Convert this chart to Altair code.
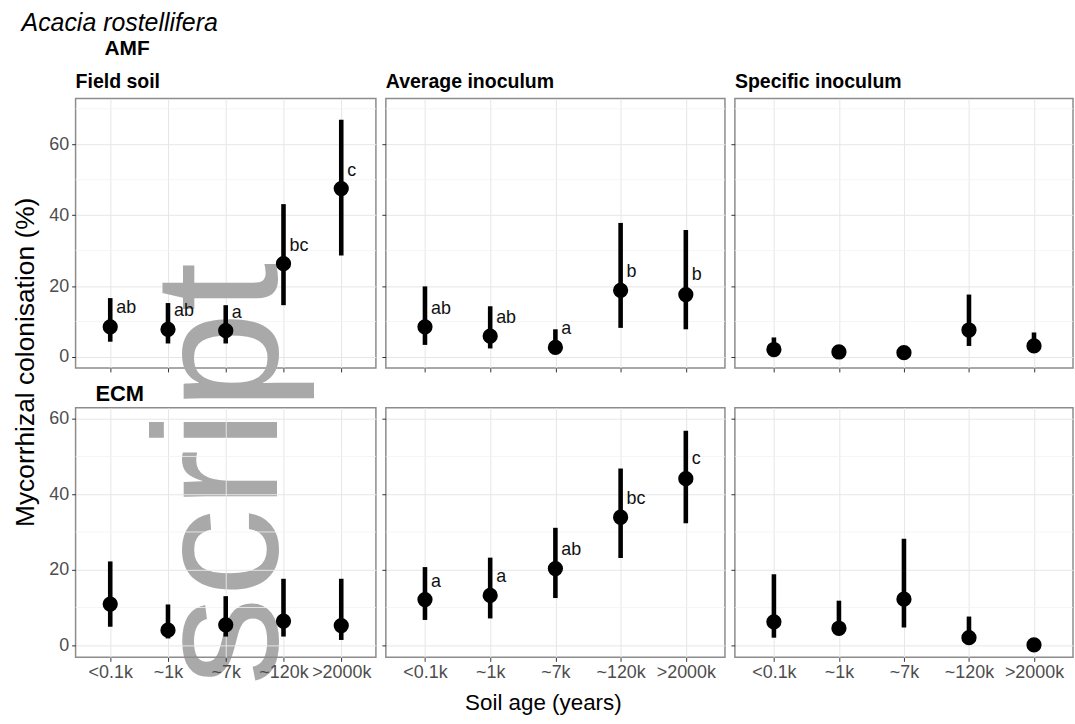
import altair as alt
import pandas as pd

# Soil-age categories along the chronosequence
ages = ["<0.1k", "~1k", "~7k", "~120k", ">2000k"]

# AMF colonisation (%) - mean and interval bounds per soil age
field_amf_mean = [8.5, 7.8, 7.4, 26.3, 47.5]
field_amf_lo = [4.3, 3.8, 3.8, 14.6, 28.6]
field_amf_hi = [16.6, 15.2, 14.6, 43.1, 66.9]
field_amf_letters = ["ab", "ab", "a", "bc", "c"]
field_amf_label_y = [13.7, 13.0, 12.3, 31.2, 52.4]

avg_amf_mean = [8.5, 5.9, 2.7, 18.8, 17.6]
avg_amf_lo = [3.4, 2.4, 0.8, 8.2, 7.8]
avg_amf_hi = [19.9, 14.3, 7.8, 37.8, 35.8]
avg_amf_letters = ["ab", "ab", "a", "b", "b"]
avg_amf_label_y = [13.6, 11.0, 7.8, 23.9, 23.0]

spec_amf_mean = [2.1, 1.4, 1.2, 7.6, 3.1]
spec_amf_lo = [0.6, 0.4, 0.3, 3.1, 1.2]
spec_amf_hi = [5.5, 2.6, 2.2, 17.6, 6.9]

# ECM colonisation (%)
field_ecm_mean = [10.9, 4.0, 5.4, 6.4, 5.2]
field_ecm_lo = [4.9, 1.8, 2.3, 2.3, 1.4]
field_ecm_hi = [22.2, 10.8, 13.0, 17.6, 17.6]

avg_ecm_mean = [12.1, 13.2, 20.3, 33.9, 44.1]
avg_ecm_lo = [6.7, 7.1, 12.5, 23.1, 32.3]
avg_ecm_hi = [20.7, 23.2, 31.1, 46.8, 56.8]
avg_ecm_letters = ["a", "a", "ab", "bc", "c"]
avg_ecm_label_y = [16.8, 18.1, 25.1, 38.7, 49.2]

spec_ecm_mean = [6.2, 4.5, 12.2, 2.0, 0.1]
spec_ecm_lo = [2.0, 2.7, 4.7, 0.5, 0.0]
spec_ecm_hi = [18.8, 11.8, 28.2, 7.6, 0.3]

# y ranges per row and minor grid positions
amf_domain = [-3.1, 72.9]
ecm_domain = [-3.2, 62.9]
major_ticks = [0, 20, 40, 60]
amf_minor = [10, 30, 50, 70]
ecm_minor = [10, 30, 50]

FONT = "Liberation Sans"
GRID = "#e6e6e6"
MINOR = "#f3f3f3"
TICK_LABEL = "#4d4d4d"


def frame(mean, lo, hi, letters=None, label_y=None):
    d = pd.DataFrame({"age": ages, "mean": mean, "lo": lo, "hi": hi})
    d["letter"] = letters if letters else [""] * len(ages)
    d["label_y"] = label_y if label_y else mean
    return d


def panel(d, title, width, height, domain, minor, show_y, show_x,
          title_size=19.6, title_dx=0, title_offset=6, watermark=False):
    yscale = alt.Scale(domain=domain, nice=False, zero=False)
    xscale = alt.Scale(type="point", padding=0.6)
    x_axis = alt.Axis(
        grid=True, gridColor=GRID, gridWidth=1, domain=False,
        ticks=True, tickSize=4, tickColor="#333333", tickWidth=1,
        labels=show_x, labelAngle=0, labelFontSize=18, labelColor=TICK_LABEL,
        labelFont=FONT, labelPadding=2, title=None,
    )
    y_axis = alt.Axis(
        values=major_ticks, grid=True, gridColor=GRID, gridWidth=1, domain=False,
        ticks=True, tickSize=4, tickColor="#333333", tickWidth=1,
        labels=show_y, labelFontSize=18, labelColor=TICK_LABEL,
        labelFont=FONT, labelPadding=3, title=None,
    )
    x = alt.X("age:N", sort=ages, scale=xscale, axis=x_axis)

    minor_grid = alt.Chart(pd.DataFrame({"v": minor})).mark_rule(
        color=MINOR, strokeWidth=0.8
    ).encode(y=alt.Y("v:Q", scale=yscale, axis=y_axis))

    base = alt.Chart(d)
    bars = base.mark_rule(color="black", strokeWidth=4.6).encode(
        x=x,
        y=alt.Y("lo:Q", scale=yscale, axis=y_axis),
        y2="hi:Q",
    )
    points = base.mark_circle(color="black", size=235, opacity=1).encode(
        x=x,
        y=alt.Y("mean:Q", scale=yscale, axis=y_axis),
    )
    letters = base.mark_text(
        align="left", baseline="middle", dx=6, fontSize=18, font=FONT, color="#111111"
    ).encode(
        x=x,
        y=alt.Y("label_y:Q", scale=yscale, axis=y_axis),
        text="letter:N",
    )
    layers = [minor_grid]
    if watermark:
        layers.append(
            alt.Chart(pd.DataFrame({"t": ["script"]})).mark_text(
                angle=270, align="right", baseline="alphabetic",
                fontSize=178, font=FONT, color="#a9a9a9",
            ).encode(x=alt.value(203), y=alt.value(165), text="t:N")
        )
    layers += [bars, points, letters]
    props = dict(width=width, height=height)
    if title:
        props["title"] = alt.TitleParams(
            text=title, anchor="start", frame="group", fontSize=title_size,
            fontWeight="bold", font=FONT, color="black", offset=title_offset, dx=title_dx,
        )
    return alt.layer(*layers).properties(**props)


W1, W2, W3 = 302, 341, 340
H1, H2 = 271, 251

p11 = panel(frame(field_amf_mean, field_amf_lo, field_amf_hi, field_amf_letters, field_amf_label_y),
            "Field soil", W1, H1, amf_domain, amf_minor, True, False, watermark=True)
p12 = panel(frame(avg_amf_mean, avg_amf_lo, avg_amf_hi, avg_amf_letters, avg_amf_label_y),
            "Average inoculum", W2, H1, amf_domain, amf_minor, False, False)
p13 = panel(frame(spec_amf_mean, spec_amf_lo, spec_amf_hi),
            "Specific inoculum", W3, H1, amf_domain, amf_minor, False, False)

p21 = panel(frame(field_ecm_mean, field_ecm_lo, field_ecm_hi),
            "ECM", W1, H2, ecm_domain, ecm_minor, True, True,
            title_size=22, title_dx=20, title_offset=2)
p22 = panel(frame(avg_ecm_mean, avg_ecm_lo, avg_ecm_hi, avg_ecm_letters, avg_ecm_label_y),
            None, W2, H2, ecm_domain, ecm_minor, False, True)
p23 = panel(frame(spec_ecm_mean, spec_ecm_lo, spec_ecm_hi),
            None, W3, H2, ecm_domain, ecm_minor, False, True)

grid = alt.concat(
    p11, p12, p13, p21, p22, p23,
    columns=3, spacing={"row": 40, "column": 10}, bounds="flush", align="each",
    title=alt.TitleParams("AMF", anchor="start", frame="group", dx=29, offset=12,
                          fontSize=21, fontWeight="bold", font=FONT, color="black"),
)

with_y = alt.hconcat(
    grid,
    title=alt.TitleParams("Mycorrhizal colonisation (%)", orient="left", anchor="middle",
                          fontSize=26.5, fontWeight="normal", font=FONT, color="black", offset=9),
)
with_x = alt.vconcat(
    with_y,
    title=alt.TitleParams("Soil age (years)", orient="bottom", anchor="middle",
                          fontSize=22.5, fontWeight="normal", font=FONT, color="black", offset=6),
)
chart = alt.vconcat(
    with_x,
    title=alt.TitleParams("Acacia rostellifera", anchor="start", fontSize=25, fontStyle="italic",
                          fontWeight="normal", font=FONT, color="black", dx=9, offset=2),
).properties(
    padding={"left": 12, "top": 9, "right": 0, "bottom": 0},
    background="white",
).configure_view(
    stroke="#8c8c8c", strokeWidth=1.5,
)

chart.save("out.html", embed_options={"renderer": "svg", "actions": False})
